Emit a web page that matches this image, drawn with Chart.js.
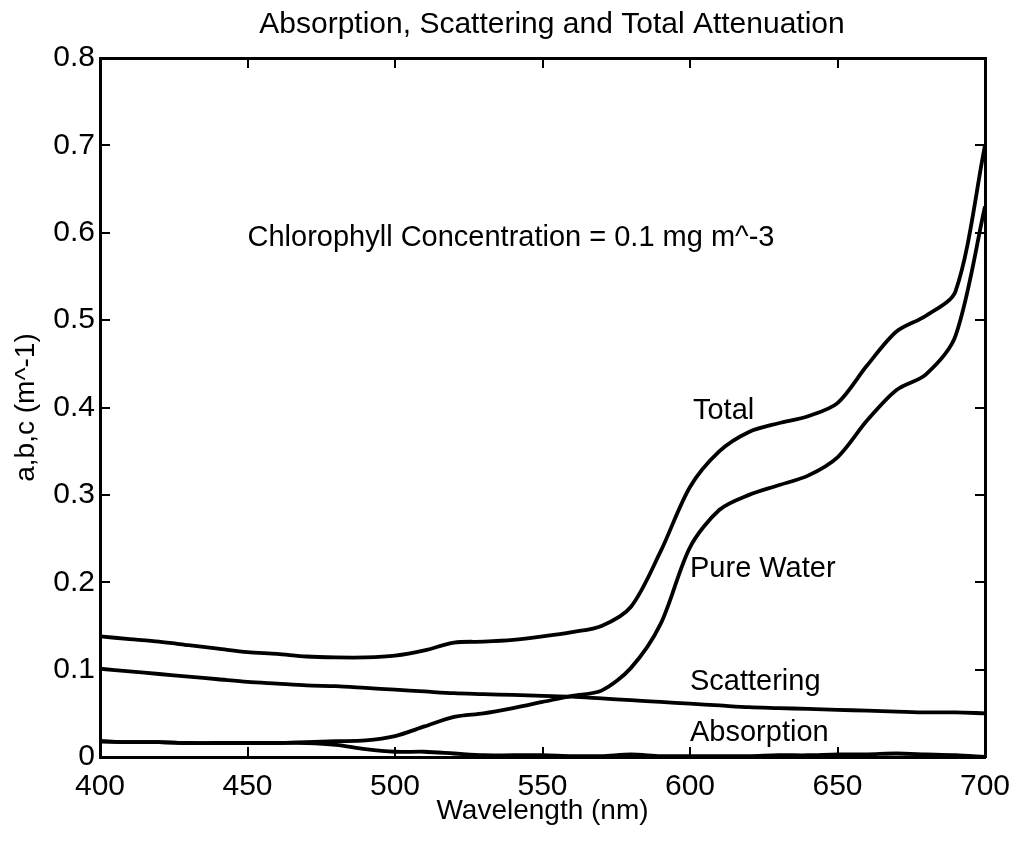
<!DOCTYPE html>
<html>
<head>
<meta charset="utf-8">
<script src="https://cdn.jsdelivr.net/npm/chart.js@4/dist/chart.umd.min.js"></script>
<style>
  html, body { margin: 0; padding: 0; background: #fff; overflow: hidden; }
  #wrap { width: 1016px; height: 844px; }
  canvas { display: block; }
</style>
</head>
<body>
<div id="wrap"><canvas id="attenChart" width="1016" height="844"></canvas></div>
<script>
// --- DATA ---
const wavelengths = [400, 410, 420, 430, 440, 450, 460, 470, 480, 490, 500, 510, 520, 530, 540, 550,
                     560, 570, 580, 590, 600, 610, 620, 630, 640, 650, 660, 670, 680, 690, 700];

const total = [0.138, 0.135, 0.132, 0.128, 0.124, 0.120, 0.118, 0.115, 0.114, 0.114, 0.116, 0.122, 0.131,
               0.132, 0.134, 0.138, 0.143, 0.150, 0.172, 0.235, 0.309, 0.350, 0.372, 0.382, 0.390, 0.405,
               0.448, 0.487, 0.505, 0.533, 0.700];

const pureWater = [0.018, 0.017, 0.017, 0.016, 0.016, 0.016, 0.016, 0.017, 0.018, 0.019, 0.024, 0.035, 0.046,
                   0.050, 0.056, 0.063, 0.070, 0.076, 0.102, 0.152, 0.240, 0.283, 0.300, 0.311, 0.322, 0.343,
                   0.385, 0.420, 0.438, 0.482, 0.630];

const scattering = [0.101, 0.098, 0.095, 0.092, 0.089, 0.086, 0.084, 0.082, 0.081, 0.079, 0.077, 0.075, 0.073,
                    0.072, 0.071, 0.070, 0.069, 0.067, 0.065, 0.063, 0.061, 0.059, 0.057, 0.056, 0.055, 0.054,
                    0.053, 0.052, 0.051, 0.051, 0.050];

const absorption = [0.018, 0.017, 0.017, 0.016, 0.016, 0.016, 0.016, 0.016, 0.014, 0.009, 0.006, 0.006, 0.004,
                    0.002, 0.002, 0.002, 0.001, 0.001, 0.003, 0.001, 0.001, 0.001, 0.001, 0.002, 0.002, 0.003,
                    0.003, 0.004, 0.003, 0.002, 0.000];

const seriesNames = ['Total', 'Pure Water', 'Scattering', 'Absorption'];
const xTicks = [400, 450, 500, 550, 600, 650, 700];
const yTicks = [0, 0.1, 0.2, 0.3, 0.4, 0.5, 0.6, 0.7, 0.8];

const chartTitle = 'Absorption, Scattering and Total Attenuation';

// text placed inside the plot, in data units
const notes = [
    { text: 'Total',      x: 601, y: 0.396 },
    { text: 'Pure Water', x: 600, y: 0.215 },
    { text: 'Scattering', x: 600, y: 0.086 },
    { text: 'Absorption', x: 600, y: 0.027 },
    { text: 'Chlorophyll Concentration = 0.1 mg m^-3', x: 450, y: 0.594 }
];

const FONT = "'Liberation Sans', Arial, Helvetica, sans-serif";
const INK = '#000';

function toPoints(values) {
    return wavelengths.map((w, i) => ({ x: w, y: values[i] }));
}

const seriesValues = [total, pureWater, scattering, absorption];

// title + in-plot text labels
const notesPlugin = {
    id: 'notes',
    afterDatasetsDraw(chart) {
        const { ctx, scales } = chart;
        ctx.save();
        ctx.fillStyle = INK;
        ctx.font = `29px ${FONT}`;
        ctx.textAlign = 'left';
        ctx.textBaseline = 'middle';
        notes.forEach(n => {
            ctx.fillText(n.text, scales.x.getPixelForValue(n.x), scales.y.getPixelForValue(n.y));
        });
        // title, centred a little right of the plot like the original
        ctx.font = `30px ${FONT}`;
        ctx.textAlign = 'center';
        ctx.textBaseline = 'alphabetic';
        ctx.fillText(chartTitle, 552, 33);
        ctx.restore();
    }
};

const tickGrid = { drawOnChartArea: false, drawTicks: true, tickLength: -10, color: INK, lineWidth: 2 };
const frame = { display: true, color: INK, width: 3 };

const ctx = document.getElementById('attenChart').getContext('2d');
const attenChart = new Chart(ctx, {
    type: 'line',
    data: {
        datasets: seriesNames.map((name, i) => ({
            label: name,
            data: toPoints(seriesValues[i]),
            borderColor: INK,
            borderWidth: 3.8,
            pointRadius: 0,
            tension: 0.3,
            fill: false
        }))
    },
    options: {
        responsive: false,
        animation: false,
        layout: { padding: { left: 0, right: 0, top: 58, bottom: 0 } },
        plugins: {
            legend: { display: false },
            tooltip: { enabled: false },
            title: { display: false }
        },
        scales: {
            x: {
                type: 'linear',
                position: 'bottom',
                min: 400, max: 700,
                afterBuildTicks: s => { s.ticks = xTicks.map(v => ({ value: v })); },
                // fixed height; the end labels may hang past the plot edges
                afterFit: s => { s.height = 87; s.paddingLeft = 0; s.paddingRight = 0; },
                grid: tickGrid,
                border: frame,
                ticks: { color: INK, font: { family: FONT, size: 30 }, padding: 22, maxRotation: 0 },
                title: {
                    display: true, text: 'Wavelength (nm)', color: INK,
                    font: { family: FONT, size: 28 }, padding: { top: 0, bottom: 16 }
                }
            },
            y: {
                type: 'linear',
                position: 'left',
                min: 0, max: 0.8,
                afterBuildTicks: s => { s.ticks = yTicks.map(v => ({ value: v })); },
                afterFit: s => { s.width = 100; },
                grid: tickGrid,
                border: frame,
                ticks: { color: INK, font: { family: FONT, size: 30 }, padding: 15, callback: v => String(v) },
                title: {
                    display: true, text: 'a,b,c (m^-1)', color: INK,
                    font: { family: FONT, size: 28 }, padding: { top: 9, bottom: 0 }
                }
            },
            xTop: {
                type: 'linear',
                position: 'top',
                min: 400, max: 700,
                afterBuildTicks: s => { s.ticks = xTicks.map(v => ({ value: v })); },
                afterFit: s => { s.height = 0; },
                grid: tickGrid,
                border: frame,
                ticks: { display: false }
            },
            yRight: {
                type: 'linear',
                position: 'right',
                min: 0, max: 0.8,
                afterBuildTicks: s => { s.ticks = yTicks.map(v => ({ value: v })); },
                afterFit: s => { s.width = 31; },
                grid: tickGrid,
                border: frame,
                ticks: { display: false }
            }
        }
    },
    plugins: [notesPlugin]
});
</script>
</body>
</html>
